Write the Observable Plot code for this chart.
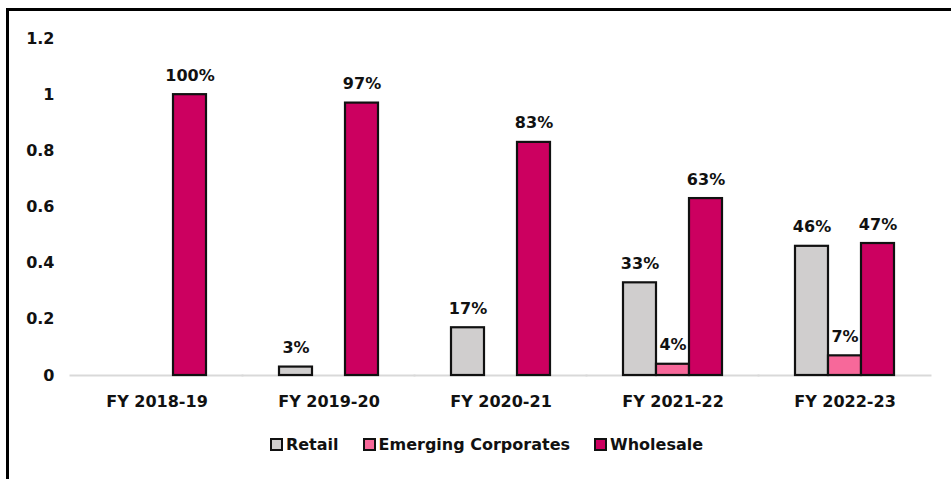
<!DOCTYPE html>
<html>
<head>
<meta charset="utf-8">
<script src="https://cdn.jsdelivr.net/npm/d3@7"></script>
<script src="https://cdn.jsdelivr.net/npm/@observablehq/plot@0.6"></script>
<style>
  body { margin: 0; background: #fff; font-family: "DejaVu Sans", sans-serif; }
  #wrap { position: relative; width: 951px; height: 479px; overflow: hidden; }
  #frame { position: absolute; left: 6px; top: 8px; width: 960px; height: 500px; border-top: 3px solid #000; border-left: 3px solid #000; box-sizing: border-box; pointer-events: none; }
  #chart { position: absolute; left: 0; top: 0; }
  #legend { position: absolute; left: 11px; top: 435px; width: 951px; display: flex; justify-content: center; gap: 24px; font-weight: bold; font-size: 16px; color: #111; }
  #legend .item { display: flex; align-items: center; gap: 3px; }
  #legend .sw { width: 9px; height: 9px; border: 2px solid #111; display: inline-block; }
</style>
</head>
<body>
<div id="wrap">
  <div id="chart"></div>
  <div id="legend"></div>
  <div id="frame"></div>
</div>
<script>
const categories = ["FY 2018-19", "FY 2019-20", "FY 2020-21", "FY 2021-22", "FY 2022-23"];
const seriesNames = ["Retail", "Emerging Corporates", "Wholesale"];
const seriesColors = ["#d0cece", "#f7689a", "#cc0060"];
const retail = [null, 0.03, 0.17, 0.33, 0.46];
const emerging = [null, null, null, 0.04, 0.07];
const wholesale = [1.00, 0.97, 0.83, 0.63, 0.47];
const yTicks = [0, 0.2, 0.4, 0.6, 0.8, 1.0, 1.2];

const values = [retail, emerging, wholesale];
const data = [];
categories.forEach((c, i) => {
  seriesNames.forEach((s, j) => {
    if (values[j][i] != null) data.push({category: c, series: s, value: values[j][i]});
  });
});

const chart = Plot.plot({
  width: 951,
  height: 420,
  marginTop: 38,
  marginBottom: 45,
  marginLeft: 68,
  marginRight: 19,
  style: {fontFamily: "DejaVu Sans, sans-serif", fontWeight: "bold", fontSize: "16px", color: "#111", background: "transparent"},
  fx: {domain: categories, paddingInner: 0.415, paddingOuter: 0.2075, label: null},
  x: {domain: seriesNames, padding: 0, axis: null},
  y: {domain: [0, 1.2], label: null},
  color: {domain: seriesNames, range: seriesColors},
  marks: [
    Plot.axisY({ticks: yTicks, tickSize: 0, tickPadding: 52, tickFormat: d => String(+d.toFixed(1)), fontSize: 16, fontWeight: "bold", label: null}),
    Plot.axisFx({anchor: "bottom", tickSize: 0, tickPadding: 20, fontSize: 16, fontWeight: "bold", label: null}),
    Plot.ruleY([0], {stroke: "#d9d9d9", strokeWidth: 2, insetLeft: -36.5, insetRight: -36.5}),
    Plot.barY(data, {fx: "category", x: "series", y: "value", fill: "series", stroke: "#111", strokeWidth: 2.2}),
    Plot.text(data, {fx: "category", x: "series", y: "value", text: d => Math.round(d.value * 100) + "%", lineAnchor: "bottom", dy: -14, fontSize: 16, fontWeight: "bold", fill: "#111"})
  ]
});
document.getElementById("chart").appendChild(chart);

const legend = document.getElementById("legend");
seriesNames.forEach((s, i) => {
  const item = document.createElement("div");
  item.className = "item";
  const sw = document.createElement("span");
  sw.className = "sw";
  sw.style.background = seriesColors[i];
  const lab = document.createElement("span");
  lab.textContent = s;
  item.appendChild(sw);
  item.appendChild(lab);
  legend.appendChild(item);
});
</script>
</body>
</html>
